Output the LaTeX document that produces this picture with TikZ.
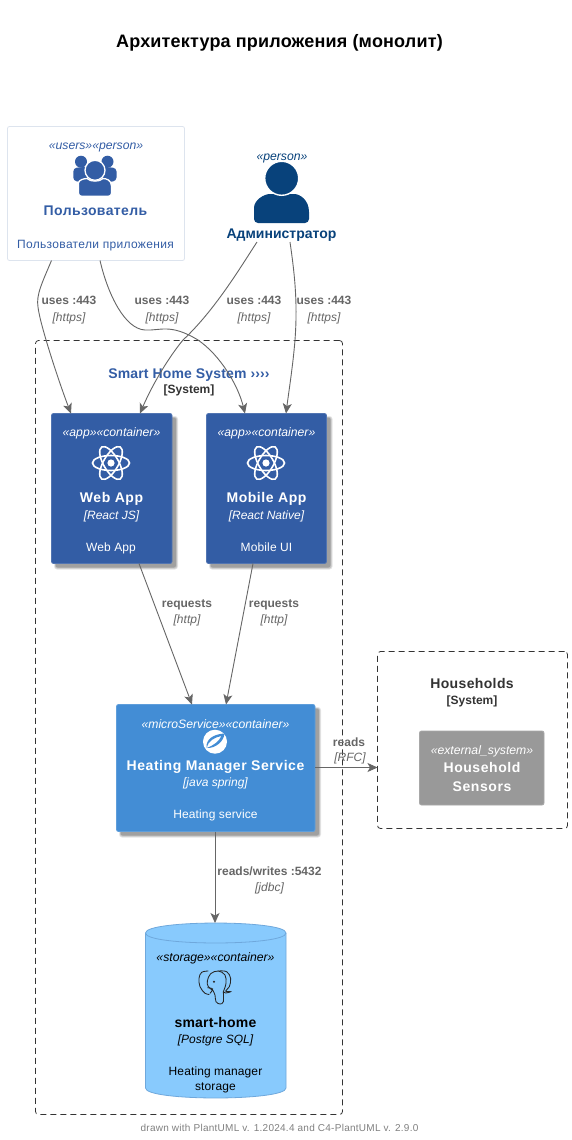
\documentclass[tikz,border=0pt]{standalone}
\usepackage{fontspec}
\setmainfont{Liberation Sans}
\usetikzlibrary{arrows.meta}
\definecolor{appblue}{HTML}{335DA5}
\definecolor{svcblue}{HTML}{438DD5}
\definecolor{dbblue}{HTML}{88CAFD}
\definecolor{dbline}{HTML}{6FA8DC}
\definecolor{admblue}{HTML}{08427B}
\definecolor{linkgray}{HTML}{666666}
\definecolor{extgray}{HTML}{999999}
\definecolor{bordergray}{HTML}{333333}
\definecolor{usrline}{HTML}{DDE4EE}
\newcommand{\softshadow}[4]{%
  \fill[black,opacity=.10,rounded corners=3pt] (#1+2.5,#2+2.5) rectangle (#3+6,#4+6);
  \fill[black,opacity=.14,rounded corners=2pt] (#1+3.5,#2+3.5) rectangle (#3+5,#4+5);
  \fill[black,opacity=.18,rounded corners=2pt] (#1+4,#2+4) rectangle (#3+4,#4+4);}
\newcommand{\atomicon}[2]{%
  \begin{scope}[shift={(#1,#2)}]
    \foreach \a in {0,60,120}
      \draw[white,line width=1.6pt,rotate=\a] (0,0) ellipse [x radius=18.5,y radius=7.5];
    \fill[white] (0,0) circle [radius=3.6];
  \end{scope}}
\tikzset{
  x=1pt,y=-1pt,
  txt/.style={inner sep=0pt,outer sep=0pt,anchor=base,align=center},
  boxnode/.style={rectangle,rounded corners=2pt,inner sep=0pt,outer sep=0pt},
  boundary/.style={draw=bordergray,dashed,dash pattern=on 6pt off 4pt,line width=.8pt,rounded corners=3pt},
  link/.style={draw=linkgray,line width=.9pt,-{Stealth[length=10pt,width=9pt,inset=2.5pt]}},
  ster/.style={txt,font=\fontsize{12.2}{14}\selectfont\itshape},
  head/.style={txt,font=\fontsize{14}{16}\selectfont\bfseries\addfontfeature{LetterSpace=#1}},
  head/.default=4,
  tech/.style={txt,font=\fontsize{12}{14}\selectfont\itshape},
  descr/.style={txt,font=\fontsize{12}{14}\selectfont\addfontfeature{LetterSpace=#1}},
  descr/.default=1,
  linklab/.style={txt,text=linkgray,font=\fontsize{12}{14}\selectfont\bfseries},
  linktech/.style={txt,text=linkgray,font=\fontsize{12}{14}\selectfont\itshape},
  sysname/.style={txt,text=bordergray,font=\fontsize{12}{14}\selectfont\bfseries},
}
\begin{document}
\begin{tikzpicture}
\useasboundingbox (0,0) rectangle (572,1140);
\fill[white] (0,0) rectangle (572,1140);

\node[txt,font=\fontsize{18}{20}\selectfont\bfseries\addfontfeature{LetterSpace=1}] (title) at (279.5,48) {Архитектура приложения (монолит)};

% boundaries
\node[boxnode,boundary,minimum width=307pt,minimum height=774pt] (sys) at (189,727.5) {};
\node[boxnode,boundary,minimum width=190pt,minimum height=177pt] (hh) at (472.5,740) {};
\node[head=1,text=appblue] (systitle) at (189,378) {Smart Home System ››››};
\node[sysname] (syssub) at (189,393) {[System]};
\node[head=2.6,text=bordergray] (hhtitle) at (472,688) {Households};
\node[sysname] (hhsub) at (472,704) {[System]};

% user
\node[boxnode,draw=usrline,fill=white,line width=.8pt,minimum width=177pt,minimum height=134pt] (usr) at (96,193.5) {};
\node[ster,text=appblue] (usrst) at (96,149) {«users»«person»};
\fill[appblue] (81,161.7) circle [radius=6] (107.5,161.7) circle [radius=6];
\fill[appblue,rounded corners=3.5pt] (73.3,181) -- (73.3,168) -- (84,167) -- (106,167) -- (116.5,168) -- (116.5,181) -- (108,182) -- (82,182) -- cycle;
\fill[appblue,draw=white,line width=1.3pt] (95,170.3) circle [radius=10];
\fill[appblue,draw=white,line width=1.3pt] (78.5,196.3) [rounded corners=3pt] -- (78.5,186) [sharp corners] .. controls (78.5,180) and (84,178.5) .. (87,178.5) .. controls (90,182) and (100,182) .. (103,178.5) .. controls (106,178.5) and (111.5,180) .. (111.5,186) [rounded corners=3pt] -- (111.5,196.3) -- cycle;
\node[head=2.8,text=appblue] (usrname) at (95.5,215) {Пользователь};
\node[descr=2.8,text=appblue] (usrdesc) at (95.5,248) {Пользователи приложения};

% admin
\node[ster,text=admblue] (admst) at (282,160) {«person»};
\fill[admblue,rounded corners=4pt] (254,223) -- (254,212) [sharp corners] .. controls (254,200) and (264,194) .. (270,194) -- (294,194) .. controls (300,194) and (309,200) .. (309,212) [rounded corners=4pt] -- (309,223) -- cycle;
\fill[admblue,draw=white,line width=1.4pt] (281.7,178.3) circle [radius=17];
\node[boxnode,minimum width=112pt,minimum height=18pt] (adm) at (281.5,233) {};
\node[head=0,text=admblue] (admname) at (281.5,238) {Администратор};

% containers
\softshadow{51.5}{413.5}{172}{563.5}
\node[boxnode,fill=appblue,draw=appblue!85!white,line width=.8pt,minimum width=120.5pt,minimum height=150pt] (web) at (111.75,488.5) {};
\softshadow{206.5}{413.5}{326.5}{563.5}
\node[boxnode,fill=appblue,draw=appblue!85!white,line width=.8pt,minimum width=120pt,minimum height=150pt] (mob) at (266.5,488.5) {};
\softshadow{116.5}{704.5}{315}{831.5}
\node[boxnode,fill=svcblue,draw=svcblue!85!white,line width=.8pt,minimum width=198.5pt,minimum height=127pt] (svc) at (215.75,768) {};
\node[boxnode,fill=extgray,draw=extgray!85!white,line width=.8pt,minimum width=124.5pt,minimum height=74pt] (ext) at (481.75,768) {};

\node[ster,text=white] (webst) at (111.5,436) {«app»«container»};
\atomicon{111}{463}
\node[head,text=white] (webname) at (111.5,502) {Web App};
\node[tech,text=white] (webtech) at (111.5,519) {[React JS]};
\node[descr,text=white] (webdesc) at (111,551) {Web App};

\node[ster,text=white] (mobst) at (266.5,436) {«app»«container»};
\atomicon{266}{463}
\node[head,text=white] (mobname) at (266.5,502) {Mobile App};
\node[tech,text=white] (mobtech) at (266.5,519) {[React Native]};
\node[descr,text=white] (mobdesc) at (266.5,551) {Mobile UI};

\node[ster,text=white] (svcst) at (215.5,728) {«microService»«container»};
\fill[white] (215,741.7) circle [radius=12];
\fill[svcblue] (222,728.5) -- (228.5,728.5) -- (228.5,736) .. controls (226,733) and (224,731) .. (222,728.5) -- cycle;
\fill[svcblue] (206.5,748) .. controls (205.5,739) and (214,734) .. (224.5,733.5) .. controls (224,741) and (216,748.5) .. (206.5,748) .. controls (214,745.5) and (219,741) .. (221.5,736) .. controls (215,737) and (208,741) .. (206.5,748) -- cycle;
\node[head,text=white] (svcname) at (215.5,770) {Heating Manager Service};
\node[tech,text=white] (svctech) at (215.5,786) {[java spring]};
\node[descr,text=white] (svcdesc) at (215.5,818) {Heating service};

\node[ster,text=white] (extst) at (482,754) {«external\_system»};
\node[head,text=white] (extname) at (482,772) {Household};
\node[head,text=white] (extname2) at (482,791) {Sensors};

% database
\filldraw[fill=dbblue,draw=dbline,line width=.8pt] (145.5,933) .. controls (145.5,919.7) and (286,919.7) .. (286,933) -- (286,1088) .. controls (286,1101.3) and (145.5,1101.3) .. (145.5,1088) -- cycle;
\draw[dbline,line width=.8pt] (145.5,933) .. controls (145.5,946.3) and (286,946.3) .. (286,933);
\node[boxnode,minimum width=140.5pt,minimum height=175pt] (db) at (215.75,1010.5) {};
\node[ster,text=black] (dbst) at (215.5,961) {«storage»«container»};
\begin{scope}[shift={(190,965)},x=.3333pt,y=-.3333pt,line width=.85pt,draw=black!85]
  \draw[smooth,tension=.6] plot coordinates {(55,18)(35,22)(27,40)(30,65)(45,85)(58,88)};
  \draw[smooth,tension=.6] plot coordinates {(85,18)(110,20)(122,40)(118,65)(107,78)(122,80)(107,84)(100,80)};
  \draw[smooth,tension=.6] plot coordinates {(100,80)(108,55)(105,30)(85,18)(62,26)(52,48)(55,65)(70,78)(75,90)(78,110)(90,117)(100,110)(100,80)};
  \draw[smooth,tension=.6] plot coordinates {(52,68)(68,72)(60,85)};
  \draw (72,50) circle [radius=1.5];
\end{scope}
\node[head=1.2,text=black] (dbname) at (215.5,1027) {smart-home};
\node[tech,text=black] (dbtech) at (215.5,1043) {[Postgre SQL]};
\node[descr,text=black] (dbdesc) at (215.5,1075) {Heating manager};
\node[descr,text=black] (dbdesc2) at (215.5,1090) {storage};

% connectors
\draw[link] ([xshift=44pt]usr.south west) .. controls (42,283) and (36,295) .. (38,307) .. controls (40,325) and (60,385) .. ([xshift=19.5pt]web.north west);
\draw[link] ([xshift=92.5pt]usr.south west) .. controls (108,295) and (125,329) .. (145,330) .. controls (160,331) and (170,323) .. (198,340) .. controls (220,355) and (238,385) .. ([xshift=38.5pt]mob.north west);
\draw[link] ([xshift=-24.5pt]adm.south) .. controls (240,268) and (215,310) .. (183,340) .. controls (165,362) and (150,390) .. ([xshift=88.5pt]web.north west);
\draw[link] ([xshift=8.5pt]adm.south) .. controls (294,270) and (298,300) .. (295,340) .. controls (293,365) and (289,390) .. ([xshift=79.5pt]mob.north west);
\draw[link] ([xshift=87.5pt]web.south west) -- ([xshift=75.5pt]svc.north west);
\draw[link] ([xshift=46.5pt]mob.south west) -- ([xshift=109.5pt]svc.north west);
\draw[link] ([xshift=-.75pt]svc.south) -- ([xshift=-.75pt]db.north);
\draw[link] ([yshift=.5pt]svc.east) -- ([yshift=-27.5pt]hh.west);

% link labels
\foreach \n/\px in {a/69,b/162,c/254,d/324}{
  \node[linklab] (lab\n) at (\px,304) {uses :443};
  \node[linktech] (tech\n) at (\px,321) {[https]};
}
\node[linklab] (labe) at (187,607) {requests};
\node[linktech] (teche) at (187,623) {[http]};
\node[linklab] (labf) at (274,607) {requests};
\node[linktech] (techf) at (274,623) {[http]};
\node[linklab] (labg) at (269.5,875) {reads/writes :5432};
\node[linktech] (techg) at (269.5,891) {[jdbc]};
\node[linklab] (labh) at (349,746) {reads};
\node[linktech] (techh) at (350,761) {[RFC]};

\node[txt,text=black!50,font=\fontsize{10}{12}\selectfont\addfontfeature{LetterSpace=2.7}] (foot) at (279.5,1131) {drawn with PlantUML v. 1.2024.4 and C4-PlantUML v. 2.9.0};
\end{tikzpicture}
\end{document}
